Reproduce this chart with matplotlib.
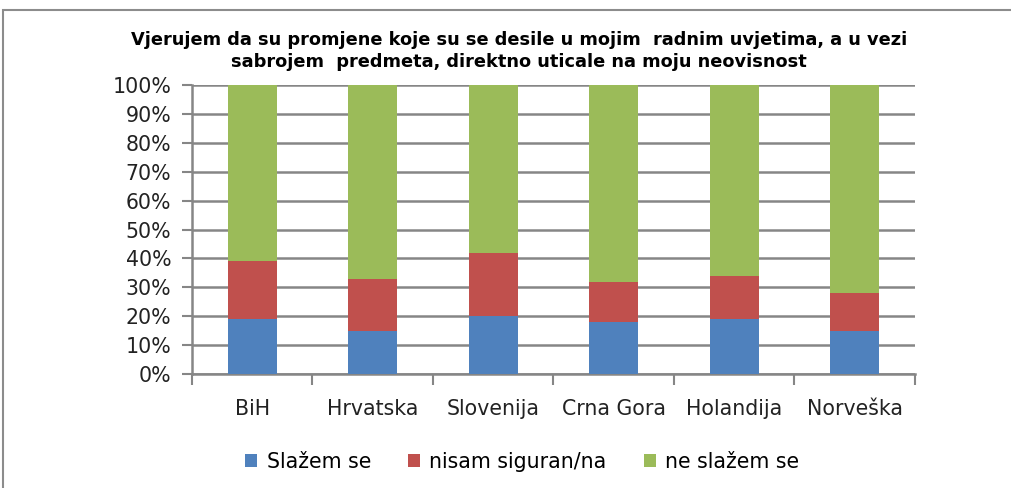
import matplotlib.pyplot as plt
from matplotlib.patches import Rectangle
import numpy as np

countries = ["BiH", "Hrvatska", "Slovenija", "Crna Gora", "Holandija", "Norveška"]
slazem = [19, 15, 20, 18, 19, 15]
nisam = [20, 18, 22, 14, 15, 13]
ne_slazem = [61, 67, 58, 68, 66, 72]
series_names = ["Slažem se", "nisam siguran/na", "ne slažem se"]
colors = ["#4F81BD", "#C0504D", "#9BBB59"]
title = ("Vjerujem da su promjene koje su se desile u mojim  radnim uvjetima, a u vezi\n"
         "sabrojem  predmeta, direktno uticale na moju neovisnost")

plt.rcParams['font.family'] = ['DejaVu Sans']

fig = plt.figure(figsize=(10.12, 4.88), dpi=100)
# outer chart border
fig.patches.append(Rectangle((3 / 1012, -0.1), 1.2, 1.1 - 10 / 488, transform=fig.transFigure,
                             facecolor='none', edgecolor='#8c8c8c', linewidth=1.5))

ax = fig.add_axes([192 / 1012, 1 - 374 / 488, 723 / 1012, 289 / 488])
x = np.arange(len(countries))
width = 0.41
bottom = np.zeros(len(countries))
for vals, name, c in zip([slazem, nisam, ne_slazem], series_names, colors):
    ax.bar(x, vals, width, bottom=bottom, color=c, label=name, zorder=3)
    bottom += np.array(vals)

ax.set_xlim(-0.5, len(countries) - 0.5)
ax.set_ylim(0, 100)
ax.set_yticks(np.arange(0, 101, 10))
ax.set_yticklabels([f"{v}%" for v in range(0, 101, 10)], fontsize=14.8, color='#222222')
ax.yaxis.grid(True, color='#868686', linewidth=1.8, zorder=0)
ax.tick_params(axis='y', length=7, width=1.5, color='#868686', pad=8)

ax.set_xticks(np.arange(-0.5, len(countries), 1))
ax.set_xticklabels([])
ax.set_xticks(x, minor=True)
ax.set_xticklabels(countries, minor=True, fontsize=14.8, color='#222222')
ax.tick_params(axis='x', which='major', length=8, width=1.5, color='#868686')
ax.tick_params(axis='x', which='minor', length=0, pad=18)

for s in ['top', 'right']:
    ax.spines[s].set_visible(False)
for s in ['left', 'bottom']:
    ax.spines[s].set_color('#868686')
    ax.spines[s].set_linewidth(1.8)

fig.text(0.513, 1 - 51 / 488, title, ha='center', va='center', fontsize=12.8,
         fontweight='bold', linespacing=1.3)

fig.legend(loc='center', bbox_to_anchor=(0.516, 1 - 462 / 488), ncol=3, frameon=False,
           fontsize=14.8, handlelength=0.6, handleheight=0.6, handletextpad=0.45,
           columnspacing=1.8)

fig.savefig("out.png", dpi=100)
